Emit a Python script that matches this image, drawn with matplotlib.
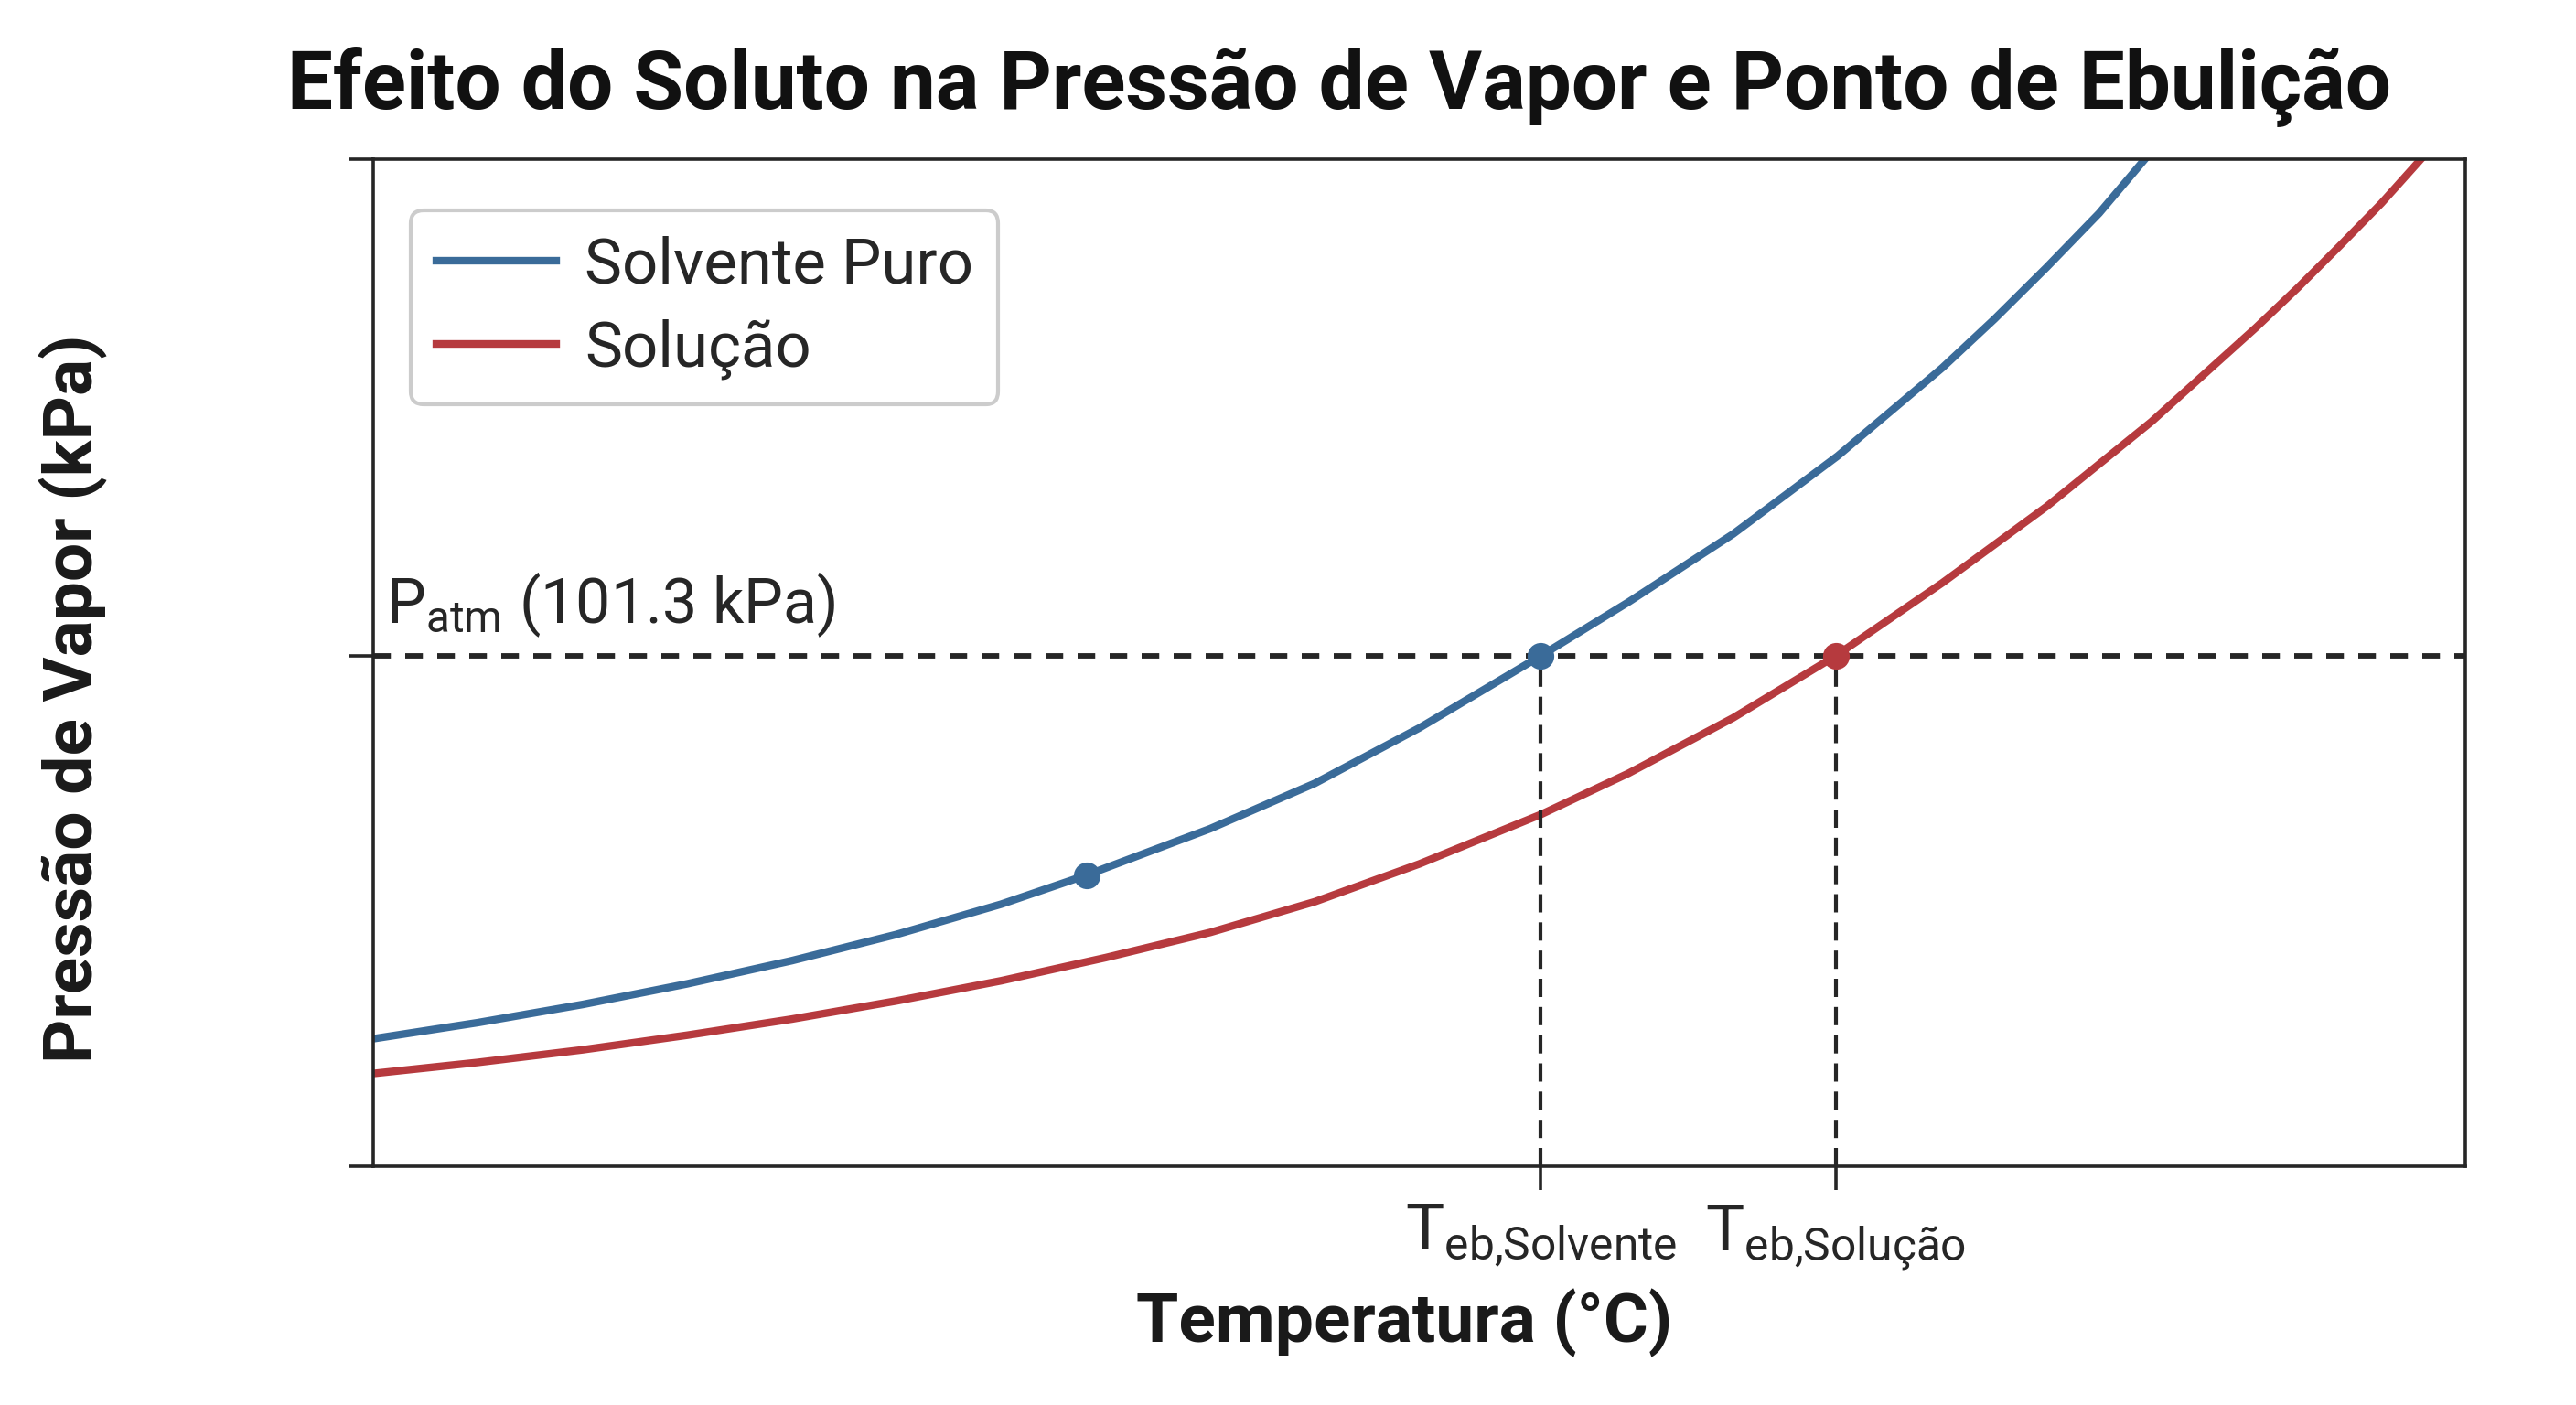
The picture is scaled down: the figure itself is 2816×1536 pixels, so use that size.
import matplotlib
matplotlib.use("Agg")
import matplotlib.pyplot as plt

plt.rcParams['font.family'] = ['Roboto', 'DejaVu Sans']
plt.rcParams['mathtext.fontset'] = 'custom'
plt.rcParams['mathtext.rm'] = 'Roboto'
plt.rcParams['mathtext.it'] = 'Roboto:italic'
plt.rcParams['mathtext.bf'] = 'Roboto:bold'

# curvas (temperatura arbitraria, pressao em kPa)
temp_solvente = [40, 45, 50, 55, 60, 65, 70, 74.1, 80, 85, 90, 95.8, 100, 105, 110, 115, 117.5, 120, 122.5, 124.7]
p_solvente = [25.3, 28.5, 32.1, 36.2, 40.8, 46.0, 52.0, 57.8, 67.0, 76.0, 87.0, 101.3, 112.0, 125.5, 141.0, 158.5, 168.2, 178.5, 189.2, 200.0]

temp_solucao = [40, 45, 50, 55, 60, 65, 70, 75, 80, 85, 90, 95.8, 100, 105, 109.9, 115, 120, 125, 130, 132, 134, 136, 137.9]
p_solucao = [18.4, 20.6, 23.1, 26.0, 29.2, 32.8, 36.8, 41.4, 46.4, 52.5, 60.0, 69.8, 78.0, 89.0, 101.3, 115.8, 131.0, 147.8, 166.5, 174.4, 182.7, 191.2, 200.0]

p_atm = 101.3
teb_solvente = 95.8
teb_solucao = 109.9
ponto_extra = (74.1, 57.8)

xlim = (40, 140)
ylim = (0, 200)

azul = '#3a6b99'
vermelho = '#b63a3e'
escuro = '#262626'

fig = plt.figure(figsize=(14.08, 7.68), dpi=200)
ax = fig.add_axes([0.145, 0.170, 0.812, 0.717])

ax.plot(temp_solvente, p_solvente, color=azul, lw=3.0, label='Solvente Puro', solid_joinstyle='round')
ax.plot(temp_solucao, p_solucao, color=vermelho, lw=3.0, label='Solução', solid_joinstyle='round')

ax.axhline(p_atm, color=escuro, lw=2.1, ls=(0, (3.3, 2.7)))
ax.plot([teb_solvente, teb_solvente], [ylim[0], p_atm], color=escuro, lw=1.5, ls=(0, (4.8, 2.6)))
ax.plot([teb_solucao, teb_solucao], [ylim[0], p_atm], color=escuro, lw=1.5, ls=(0, (4.8, 2.6)))

ax.plot([ponto_extra[0]], [ponto_extra[1]], 'o', color=azul, ms=9.5)
ax.plot([teb_solvente], [p_atm], 'o', color=azul, ms=9.5, zorder=5)
ax.plot([teb_solucao], [p_atm], 'o', color=vermelho, ms=9.5, zorder=5)

ax.text(40.6, 107.8, r'$\mathrm{P_{atm}}$ (101.3 kPa)', fontsize=24.5, color=escuro, va='baseline')

ax.set_xlim(*xlim)
ax.set_ylim(*ylim)
ax.set_xticks([teb_solvente, teb_solucao])
ax.set_xticklabels([r'$\mathrm{T_{eb{,}Solvente}}$', r'$\mathrm{T_{eb{,}Solução}}$'], fontsize=25.5, color=escuro)
ax.set_yticks([ylim[0], p_atm, ylim[1]])
ax.set_yticklabels([])
ax.tick_params(axis='both', direction='out', length=9.5, width=1.3, color=escuro, pad=5)

for s in ax.spines.values():
    s.set_color(escuro)
    s.set_linewidth(1.3)

leg = ax.legend(loc='upper left', bbox_to_anchor=(0.018, 0.949), borderaxespad=0,
                fontsize=24.8, frameon=True, fancybox=True, labelspacing=0.36,
                handlelength=1.9, handletextpad=0.45, edgecolor='#cccccc', framealpha=1)
leg.get_frame().set_linewidth(1.5)
for t in leg.get_texts():
    t.set_color(escuro)

fig.text(0.52, 0.938, 'Efeito do Soluto na Pressão de Vapor e Ponto de Ebulição',
         fontsize=32, fontweight='bold', ha='center', va='center', color='#111111')
fig.text(0.545, 0.0585, 'Temperatura (°C)', fontsize=27, fontweight='bold',
         ha='center', va='center', color='#1a1a1a')
fig.text(0.0287, 0.503, 'Pressão de Vapor (kPa)', fontsize=27, fontweight='bold',
         ha='center', va='center', rotation=90, color='#1a1a1a')

fig.savefig('out.png', dpi=200)
